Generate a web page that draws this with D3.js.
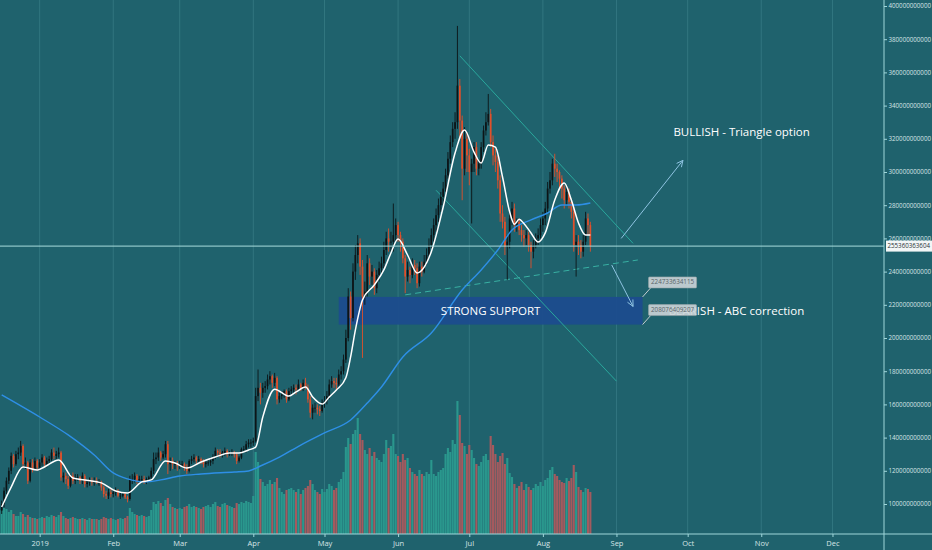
<!DOCTYPE html>
<html><head><meta charset="utf-8">
<script src="https://cdn.jsdelivr.net/npm/d3@7"></script>
<style>
html,body{margin:0;padding:0;background:#1f626d;overflow:hidden}
svg{display:block}
</style></head><body>
<svg id="c" width="932" height="550"></svg>
<script>
// ---------- DATA (values in billions USD, daily from 2018-12-16) ----------
const startDate = "2018-12-16";
const firstOpen = 96;
const closes = [
100,108,114,120,129,124,130,131,135,124,125,114,125,121,126,122,
125,128,124,126,127,131,129,130,131,116,117,115,111,117,114,116,116,114,117,112,113,114,113,114,113,113,110,106,105,107,106,
107,108,105,105,106,104,103,115,115,117,114,115,115,114,115,116,120,127,128,131,128,130,136,124,126,124,124,123,
124,124,122,120,126,127,128,126,127,126,124,125,125,126,128,132,131,130,131,132,130,131,131,130,126,128,133,133,136,137,137,
138,165,170,167,170,171,175,177,173,176,163,165,166,168,163,168,169,170,169,172,170,173,170,163,155,158,158,157,156,161,
162,165,172,174,173,172,178,180,187,200,225,212,240,250,257,243,225,228,245,237,240,230,238,242,245,253,260,258,258,262,268,
262,258,248,237,241,238,244,242,233,243,240,246,250,256,262,268,274,280,285,290,298,308,318,326,330,352,331,302,320,310,
300,305,315,302,305,315,325,330,335,318,310,306,295,275,270,255,258,272,278,268,270,265,262,260,262,256,252,256,260,262,268,
272,278,290,295,305,302,300,296,290,283,288,282,276,256,258,256,252,258,272,268,255.360363604];
const highs = [
102,110,116,122,131,130,132,134,138,136,128,126,127,127,128,127,
127,130,129,128,129,133,134,132,134,132,119,119,117,118,119,118,118,117,119,118,115,116,116,116,116,115,114,111,108,109,109,
109,110,109,107,107,107,105,117,118,119,118,117,117,117,116,117,122,131,131,134,132,132,138,138,128,128,126,126,
126,126,125,124,127,129,130,129,129,128,127,126,127,128,130,134,133,133,132,134,133,132,133,132,131,129,134,135,138,139,139,
140,170,181,173,173,174,178,180,178,179,177,167,168,169,169,170,171,172,172,175,173,175,176,172,165,160,161,160,159,163,
165,168,175,177,176,176,181,183,190,205,230,228,245,256,262,260,247,234,250,248,244,242,241,246,249,258,264,266,264,281,272,
270,264,260,250,246,243,248,247,245,246,246,250,254,260,266,272,278,284,288,294,302,312,322,330,336,388,356,334,327,324,
314,308,318,318,308,318,328,336,347,338,322,314,310,298,280,273,262,275,282,281,272,272,268,265,265,264,258,259,263,266,272,
276,282,294,300,308,311,305,301,298,292,291,290,284,279,262,262,259,262,276,275,270];
const lows = [
94,98,106,112,118,122,123,127,129,122,121,112,113,119,120,120,
120,123,122,122,124,126,127,127,128,114,113,112,109,110,112,112,114,112,112,110,110,111,111,111,112,111,108,104,103,103,104,
104,105,104,103,104,103,101,102,112,113,112,112,113,112,112,113,114,118,124,126,126,127,128,118,120,121,121,120,
121,122,120,118,119,124,125,124,125,124,122,122,123,123,124,127,129,128,128,129,128,129,129,128,124,125,127,131,131,134,134,
135,137,162,160,164,167,169,172,170,171,160,161,163,164,161,162,166,167,166,168,168,168,169,161,152,151,155,154,153,155,
158,160,163,170,170,169,171,175,178,185,198,205,210,235,245,238,188,220,225,232,232,226,227,234,238,242,250,252,252,252,258,
258,252,245,227,234,233,236,238,230,231,237,239,244,248,254,258,264,270,276,280,288,296,305,315,320,326,320,283,298,300,
292,269,300,298,298,302,312,322,328,315,304,300,290,270,266,250,235,254,268,264,264,262,258,255,256,252,242,248,254,256,260,
264,268,275,287,292,297,294,290,284,278,280,278,272,252,237,250,248,249,256,262,252];
const volumes = [
24,26,25,22,24,20,18,18,22,20,17,19,17,16,16,15,
16,17,16,18,17,19,18,17,19,22,18,16,15,16,17,16,15,15,16,15,14,16,15,15,15,14,15,17,16,15,16,
15,14,15,16,15,16,18,26,22,20,19,18,19,18,17,18,24,32,30,33,31,28,34,36,30,27,26,25,
26,25,27,28,30,27,28,27,26,25,27,28,29,27,30,32,28,27,30,31,29,28,27,26,31,30,32,31,33,32,31,
38,82,72,55,52,48,50,54,50,52,56,46,42,40,44,45,46,44,42,45,40,44,46,48,54,50,44,42,40,45,
42,45,50,48,44,46,52,55,62,87,96,90,100,104,116,100,94,84,80,86,78,82,76,74,72,80,94,86,88,100,80,
78,72,80,74,76,66,62,60,58,64,60,58,62,60,74,60,58,62,64,66,80,86,82,94,90,133,119,91,88,80,
89,84,76,70,68,72,78,80,74,98,89,80,72,78,81,70,76,61,57,50,46,48,52,44,50,47,44,46,50,48,52,
48,54,56,64,67,60,58,54,52,51,56,53,56,69,62,47,44,42,46,45,42];

// short moving average (white)
const fastMA = [["2018-12-16",98.2],["2018-12-20",110.2],["2018-12-25",122.3],["2018-12-31",120.5],["2019-01-03",122.3],
["2019-01-09",126.5],["2019-01-15",115.7],["2019-01-20",114.5],["2019-01-27",112.7],["2019-02-02",107.8],["2019-02-07",106.6],
["2019-02-13",113.3],["2019-02-17",114.5],["2019-02-23",125.9],["2019-02-27",124.7],["2019-03-04",121.7],["2019-03-10",125.3],
["2019-03-16",128.3],["2019-03-22",130.7],["2019-03-26",130.7],["2019-03-30",132.5],["2019-04-02",134.3],["2019-04-05",152.4],
["2019-04-10",169.2],["2019-04-16",165],["2019-04-19",167.5],["2019-04-23",170.5],["2019-04-26",164.5],["2019-04-30",160.2],
["2019-05-03",164.5],["2019-05-06",168.7],["2019-05-10",176],["2019-05-12",188.6],["2019-05-14",204.8],["2019-05-17",222.9],
["2019-05-22",232],["2019-05-26",241],["2019-05-29",251.2],["2019-06-01",259.6],["2019-06-05",250],["2019-06-09",239.2],
["2019-06-15",252],["2019-06-20",278.9],["2019-06-25",311.4],["2019-06-29",325.3],["2019-07-03",312],["2019-07-06",305.4],
["2019-07-09",316.3],["2019-07-12",315],["2019-07-15",297],["2019-07-18",276],["2019-07-20",268.5],["2019-07-22",271.5],
["2019-07-24",269],["2019-07-27",263.3],["2019-07-30",257.8],["2019-08-02",263.3],["2019-08-06",283.1],["2019-08-10",293.4],
["2019-08-13",283.1],["2019-08-16",269.3],["2019-08-19",262],["2019-08-21",262]];
// long moving average (blue)
const slowMA = [["2018-12-16",165.7],["2019-01-01",152.4],["2019-01-13",141.6],["2019-01-24",129.5],["2019-02-01",118.7],
["2019-02-07",115.1],["2019-02-14",113.3],["2019-02-21",114.5],["2019-03-01",116.9],["2019-03-10",118.1],["2019-03-24",119.3],
["2019-03-30",119.9],["2019-04-04",122.9],["2019-04-12",128.3],["2019-04-21",135.5],["2019-05-01",142.8],["2019-05-12",150.6],
["2019-05-19",160.8],["2019-05-25",170.5],["2019-06-03",188.6],["2019-06-15",203],["2019-06-28",228.9],["2019-07-06",241],
["2019-07-13",253],["2019-07-19",265.1],["2019-07-27",271.1],["2019-08-03",275.3],["2019-08-09",280.1],["2019-08-15",280.1],
["2019-08-21",281.3]];

const yTickValues = [100,120,140,160,180,200,220,240,260,280,300,320,340,360,380,400];
const monthTicks = ["2019-01-01","2019-02-01","2019-03-01","2019-04-01","2019-05-01","2019-06-01","2019-07-01","2019-08-01","2019-09-01","2019-10-01","2019-11-01","2019-12-01"];
const monthLabels = ["2019","Feb","Mar","Apr","May","Jun","Jul","Aug","Sep","Oct","Nov","Dec"];
const lastPrice = 255.360363604;
const supportLow = 208.076409207, supportHigh = 224.733634115;
const supportStart = "2019-05-07", supportEnd = "2019-09-12";
const downTrend = [["2019-06-27",370],["2019-09-08",257]];
const lowerChannel = [["2019-06-17",289],["2019-09-01",174]];
const risingSupport = [["2019-06-04",226],["2019-09-10",247]];
const bullArrow = [["2019-09-03",260],["2019-09-29",307]];
const bearArrow = [["2019-08-30",244],["2019-09-08",219]];
const bullText = ["2019-09-25",323.5,"BULLISH - Triangle option"];
const bearText = ["2019-09-23",215.5,"BEARISH - ABC correction"];
const supportText = "STRONG SUPPORT";

// ---------- SCALES ----------
const W=932,H=550,axisX=884,axisY=534;
const P = d3.utcParse("%Y-%m-%d");
const x = d3.scaleUtc().domain([new Date(Date.UTC(2018,11,15,7)), new Date(Date.UTC(2019,11,22,17))]).range([0,axisX]);
const y = d3.scaleLinear().domain([100,400]).range([504,6]);
const yVol = d3.scaleLinear().domain([0,140]).range([axisY,axisY-140]);
const fmt = v => d3.format("d")(Math.round(v*1e9));

const t0 = P(startDate);
const bars = closes.map((c,i)=>({date:d3.utcDay.offset(t0,i), open:i?closes[i-1]:firstOpen, close:c, high:highs[i], low:lows[i], vol:volumes[i]}));

const svg = d3.select("#c");
svg.append("rect").attr("width",W).attr("height",H).attr("fill","#1f626d");

// grid
svg.append("g").selectAll("line").data(monthTicks).join("line")
  .attr("x1",d=>x(P(d))).attr("x2",d=>x(P(d))).attr("y1",0).attr("y2",axisY)
  .attr("stroke","#3a7f88").attr("stroke-width",1).attr("opacity",0.7);

// volume
const bw = 2.1;
svg.append("g").selectAll("rect").data(bars).join("rect")
  .attr("x",d=>x(d.date)-bw/2).attr("width",bw)
  .attr("y",d=>yVol(d.vol)).attr("height",d=>axisY-yVol(d.vol))
  .attr("fill",d=>d.close>=d.open?"#2a978d":"#a45a5e");

// support zone
const zx0=x(P(supportStart)), zx1=x(P(supportEnd)), zy0=y(supportHigh), zy1=y(supportLow);
svg.append("rect").attr("x",zx0).attr("y",zy0).attr("width",zx1-zx0).attr("height",zy1-zy0)
  .attr("fill","#1c4b8e").attr("opacity",0.93);

// trend lines
const line2 = (pts, col, dash) => svg.append("line")
  .attr("x1",x(P(pts[0][0]))).attr("y1",y(pts[0][1])).attr("x2",x(P(pts[1][0]))).attr("y2",y(pts[1][1]))
  .attr("stroke",col).attr("stroke-width",1).attr("stroke-dasharray",dash||null);
line2(downTrend,"#2aa79c");
line2(lowerChannel,"#2aa79c");
line2(risingSupport,"#38b0a3","6,4");

// candles
const cw = 1.7;
const cg = svg.append("g");
cg.selectAll("line").data(bars).join("line")
  .attr("x1",d=>x(d.date)).attr("x2",d=>x(d.date)).attr("y1",d=>y(d.high)).attr("y2",d=>y(d.low))
  .attr("stroke",d=>d.close>=d.open?"#0c1416":"#e2502a").attr("stroke-width",0.9);
cg.selectAll("rect").data(bars).join("rect")
  .attr("x",d=>x(d.date)-cw/2).attr("width",cw)
  .attr("y",d=>y(Math.max(d.open,d.close))).attr("height",d=>Math.max(0.8,Math.abs(y(d.open)-y(d.close))))
  .attr("fill",d=>d.close>=d.open?"#0c1416":"#e2502a");

// moving averages
const maLine = d3.line().x(d=>x(P(d[0]))).y(d=>y(d[1])).curve(d3.curveMonotoneX);
svg.append("path").attr("d",maLine(slowMA)).attr("fill","none").attr("stroke","#2e8fe6").attr("stroke-width",1.4);
svg.append("path").attr("d",maLine(fastMA)).attr("fill","none").attr("stroke","#ffffff").attr("stroke-width",1.5);

// last price line
svg.append("line").attr("x1",0).attr("x2",axisX).attr("y1",y(lastPrice)).attr("y2",y(lastPrice))
  .attr("stroke","#a8dcdc").attr("stroke-width",1);

// arrows
function arrow(pts){
  const x1=x(P(pts[0][0])),y1=y(pts[0][1]),x2=x(P(pts[1][0])),y2=y(pts[1][1]);
  const a=Math.atan2(y2-y1,x2-x1), L=7, s=0.45;
  svg.append("line").attr("x1",x1).attr("y1",y1).attr("x2",x2).attr("y2",y2).attr("stroke","#8fc4e2").attr("stroke-width",1);
  svg.append("path").attr("d",`M${x2-L*Math.cos(a-s)},${y2-L*Math.sin(a-s)}L${x2},${y2}L${x2-L*Math.cos(a+s)},${y2-L*Math.sin(a+s)}`)
    .attr("fill","none").attr("stroke","#8fc4e2").attr("stroke-width",1);
}
arrow(bullArrow); arrow(bearArrow);

// texts
svg.append("text").attr("x",(zx0+zx1)/2).attr("y",(zy0+zy1)/2+1).attr("text-anchor","middle").attr("dominant-baseline","middle")
  .attr("font-family","Open Sans").attr("font-size",11.5).attr("fill","#ffffff").text(supportText);
[bullText,bearText].forEach(t=>{
  svg.append("text").attr("x",x(P(t[0]))).attr("y",y(t[1])).attr("dominant-baseline","middle")
    .attr("font-family","Open Sans").attr("font-size",11.5).attr("fill","#ffffff").text(t[2]);
});

// zone price labels
[[supportHigh,zy0],[supportLow,zy1]].forEach(([v,yy])=>{
  svg.append("line").attr("x1",zx1).attr("y1",yy).attr("x2",zx1+8).attr("y2",yy-9).attr("stroke","#c4ccd0").attr("stroke-width",1);
  svg.append("rect").attr("x",zx1+6).attr("y",yy-20).attr("width",48).attr("height",11).attr("rx",1)
    .attr("fill","#cdd5d8").attr("fill-opacity",0.9).attr("stroke","#9aa6aa").attr("stroke-width",0.6);
  svg.append("text").attr("x",zx1+30).attr("y",yy-14.3).attr("text-anchor","middle").attr("dominant-baseline","middle")
    .attr("font-family","Open Sans").attr("font-size",6.3).attr("fill","#5a6468").text(fmt(v));
});

// axes
svg.append("line").attr("x1",0).attr("x2",W).attr("y1",axisY).attr("y2",axisY).attr("stroke","#9fd6da").attr("stroke-width",1);
svg.append("line").attr("x1",axisX).attr("x2",axisX).attr("y1",0).attr("y2",H).attr("stroke","#9fd6da").attr("stroke-width",1);

const ya = svg.append("g").attr("transform",`translate(${axisX},0)`)
  .call(d3.axisRight(y).tickValues(yTickValues).tickFormat(fmt).tickSize(3).tickPadding(1.5));
ya.select(".domain").remove();
ya.selectAll("line").attr("stroke","#9fd6da");
ya.selectAll("text").attr("font-family","Open Sans").attr("font-size",6.2).attr("fill","#d6e4e6");

const xa = svg.append("g").attr("transform",`translate(0,${axisY})`)
  .call(d3.axisBottom(x).tickValues(monthTicks.map(P)).tickFormat((d,i)=>monthLabels[i]).tickSize(3).tickPadding(4));
xa.select(".domain").remove();
xa.selectAll("line").attr("stroke","#9fd6da");
xa.selectAll("text").attr("font-family","Open Sans").attr("font-size",7.5).attr("fill","#d6e4e6");

// last price label
const ly = y(lastPrice);
svg.append("rect").attr("x",axisX+2).attr("y",ly-5.5).attr("width",W-axisX-2).attr("height",11).attr("fill","#f2f6f6");
svg.append("text").attr("x",axisX+3.5).attr("y",ly+0.5).attr("dominant-baseline","middle")
  .attr("font-family","Open Sans").attr("font-size",6.2).attr("fill","#2a3436").text(fmt(lastPrice));
</script>
</body></html>
